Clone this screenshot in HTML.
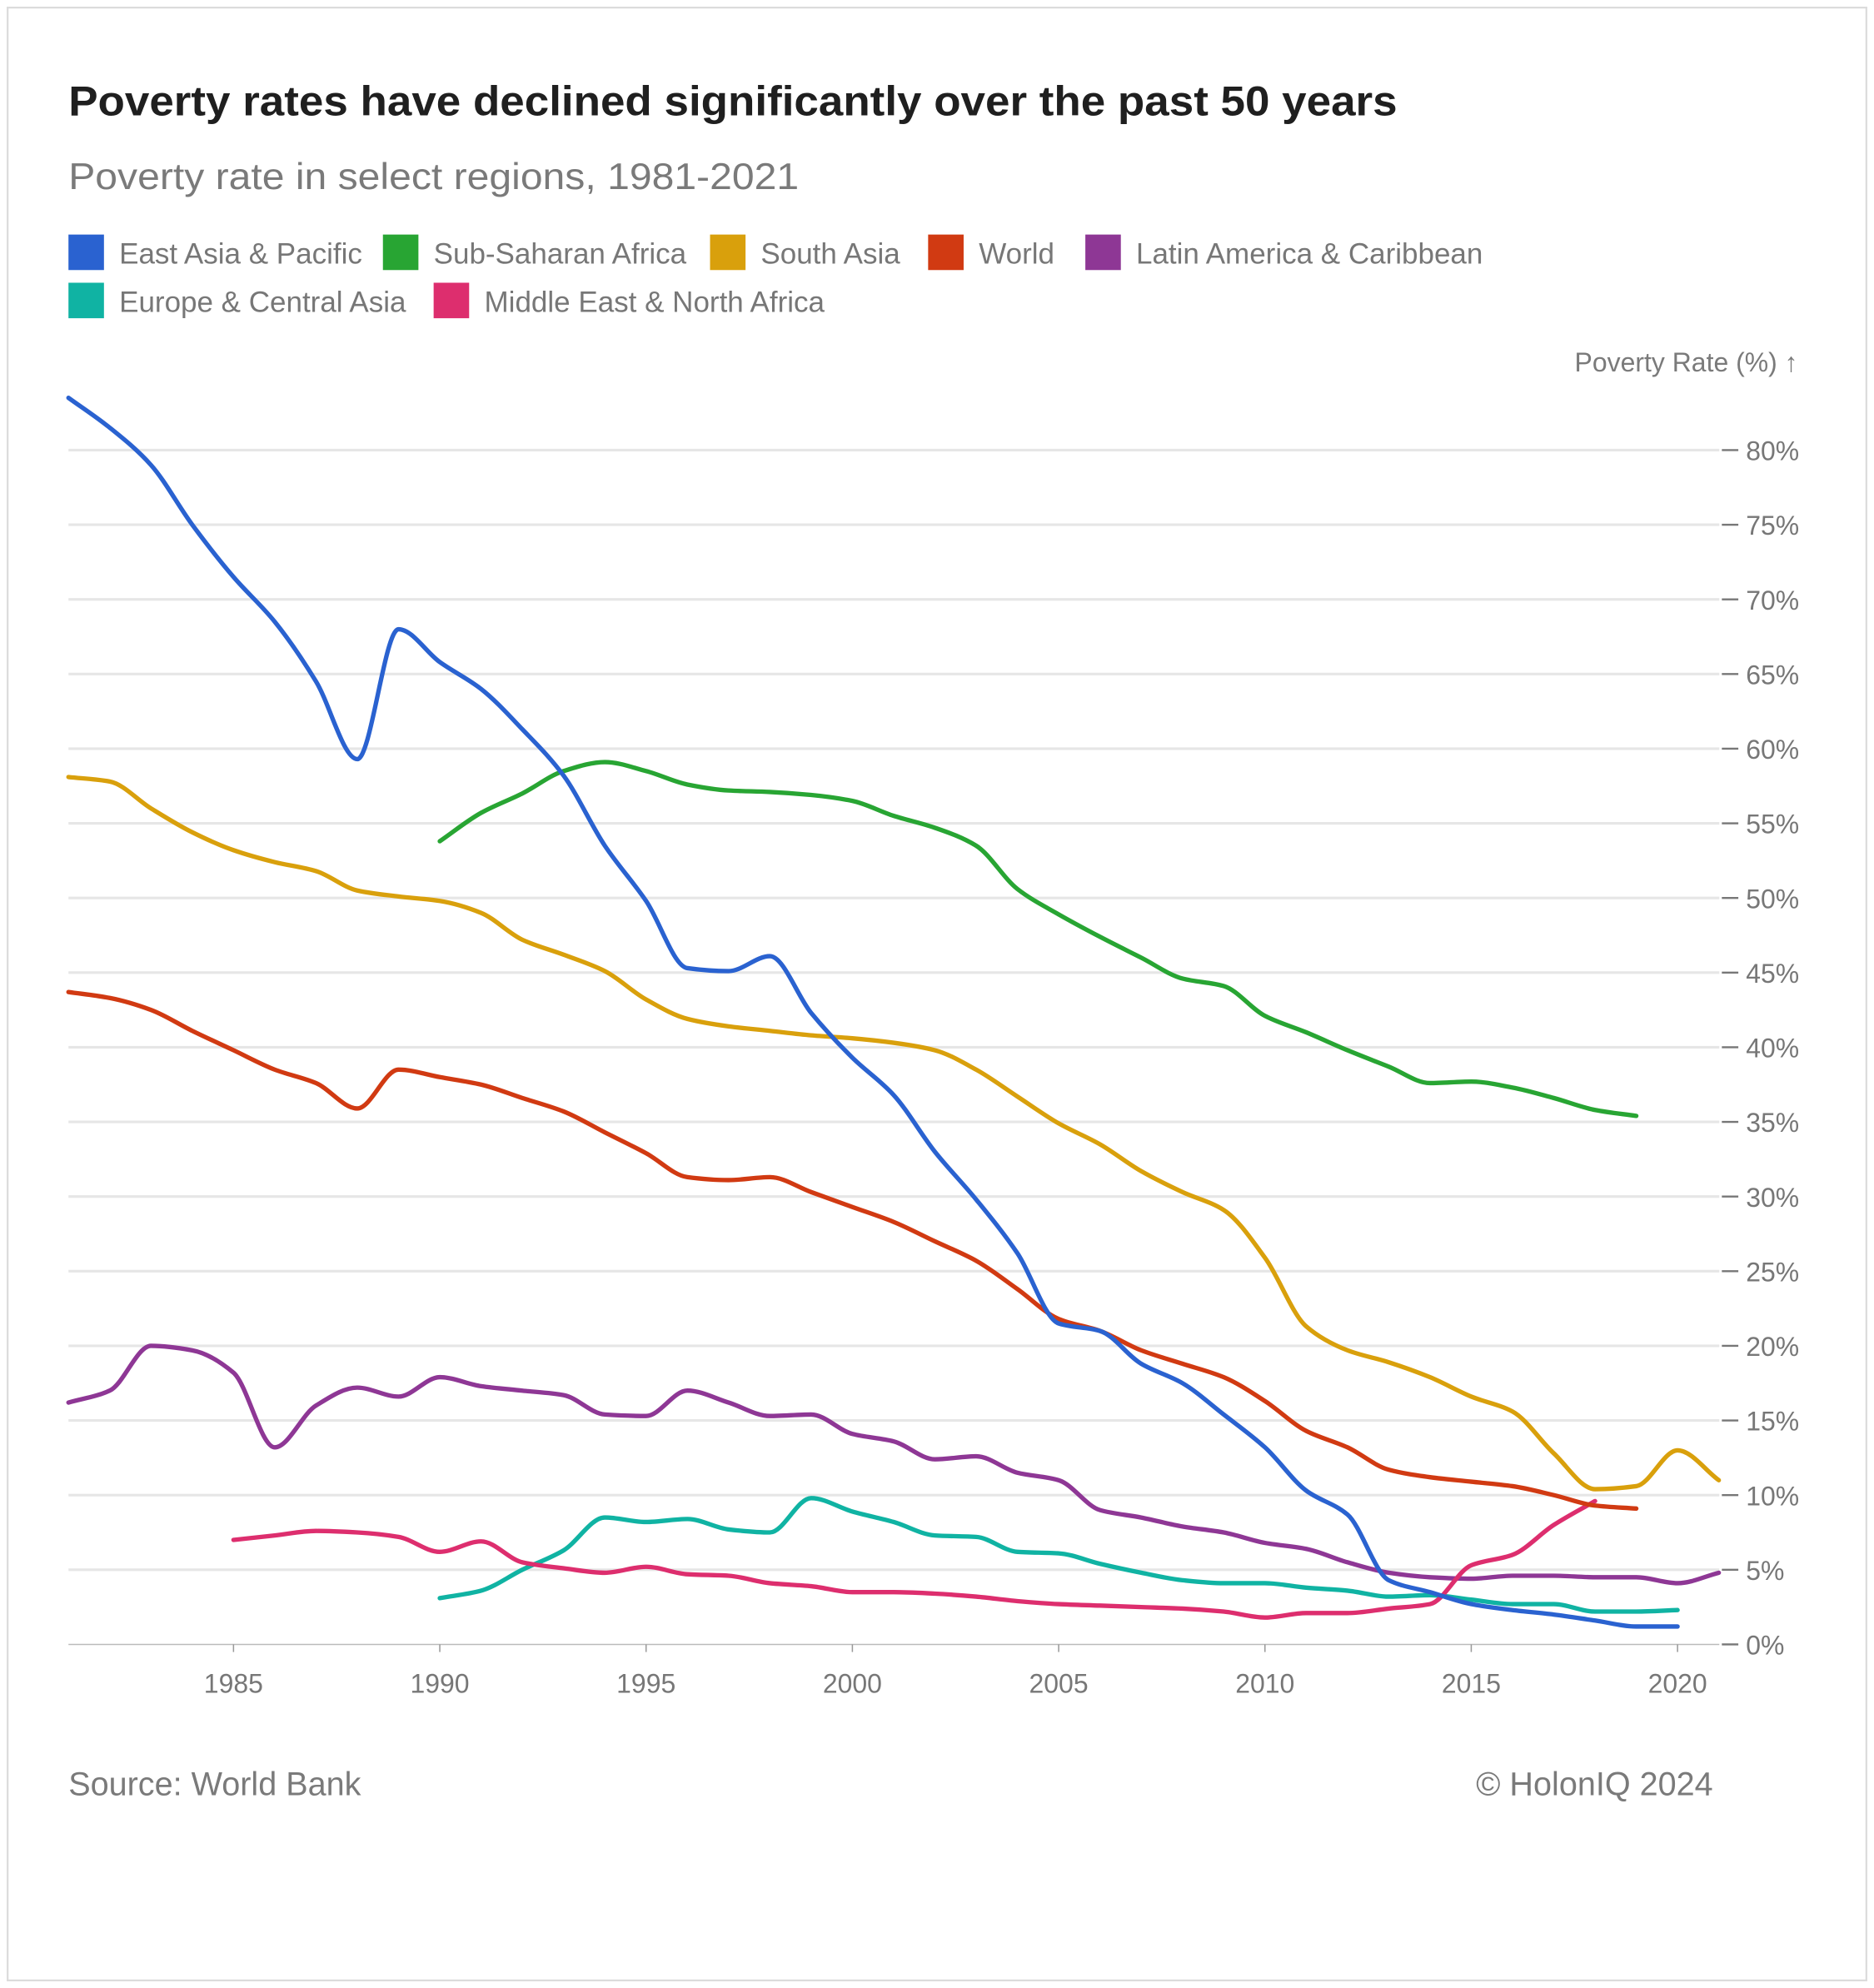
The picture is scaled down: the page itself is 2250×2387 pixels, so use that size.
<!DOCTYPE html>
<html><head><meta charset="utf-8"><style>
html,body{margin:0;padding:0;background:#fff}
svg{display:block}
text{font-family:"Liberation Sans","DejaVu Sans",sans-serif}
</style></head><body>
<svg id="chart" width="2250" height="2387" viewBox="0 0 1478 1568" xmlns="http://www.w3.org/2000/svg">
<rect x="6" y="6" width="1466" height="1556" fill="#fff" stroke="#dcdcdc" stroke-width="1.5"/>
<text x="54" y="91" font-size="33" font-weight="600" fill="#1f1f1f" textLength="1048" lengthAdjust="spacingAndGlyphs">Poverty rates have declined significantly over the past 50 years</text>
<text x="54" y="149" font-size="29" fill="#7a7a7a" textLength="576" lengthAdjust="spacingAndGlyphs">Poverty rate in select regions, 1981-2021</text>
<g id="legend"></g>
<text x="1418" y="293" font-size="21" fill="#7a7a7a" text-anchor="end">Poverty Rate (%) ↑</text>
<g id="grid"></g><g id="series"></g><g id="xaxis"></g>
<text x="54" y="1416" font-size="26" fill="#7a7a7a">Source: World Bank</text>
<text x="1351" y="1416" font-size="26" fill="#7a7a7a" text-anchor="end">© HolonIQ 2024</text>
</svg>
<script>
const yTicks=[0,5,10,15,20,25,30,35,40,45,50,55,60,65,70,75,80];
const xTicks=[1985,1990,1995,2000,2005,2010,2015,2020];
const seriesNames=["East Asia & Pacific","Sub-Saharan Africa","South Asia","World","Latin America & Caribbean","Europe & Central Asia","Middle East & North Africa"];
const seriesColors=["#2a62d0","#28a533","#d9a00c","#d13a12","#8e3795","#10b3a3","#dd2e6e"];
const seriesStart=[1981,1990,1981,1981,1981,1990,1985];
const eastAsia=[83.5,81.5,79,75,71.5,68.5,64.5,59.3,68,65.8,64,61.3,58.2,53.5,49.8,45.3,45.1,46.1,42.3,39.3,36.8,33,29.8,26.2,21.5,21,18.8,17.5,15.4,13.2,10.3,8.7,4.3,3.5,2.7,2.3,2.0,1.6,1.2,1.2];
const subSaharan=[53.8,55.7,57,58.5,59.1,58.5,57.6,57.2,57.1,56.9,56.5,55.5,54.7,53.5,50.6,48.9,47.4,46,44.6,44.1,42.1,41,39.8,38.7,37.6,37.7,37.3,36.6,35.8,35.4];
const southAsia=[58.1,57.8,56,54.4,53.2,52.4,51.8,50.5,50.1,49.8,49,47.2,46.2,45.1,43.2,41.9,41.4,41.1,40.8,40.6,40.3,39.8,38.5,36.7,34.9,33.5,31.7,30.3,29.1,25.9,21.3,19.7,18.9,17.9,16.6,15.6,12.8,10.4,10.6,13,11];
const world=[43.7,43.3,42.5,41.1,39.8,38.5,37.6,35.9,38.5,38,37.5,36.6,35.7,34.3,32.9,31.3,31.1,31.3,30.3,29.3,28.3,27,25.7,23.8,21.8,21,19.7,18.8,17.9,16.3,14.3,13.2,11.7,11.2,10.9,10.6,10,9.3,9.1];
const latAm=[16.2,17,20,19.7,18.2,13.2,16,17.2,16.6,17.9,17.3,17,16.7,15.4,15.3,17,16.2,15.3,15.4,14.1,13.6,12.4,12.6,11.5,11,9,8.5,7.9,7.5,6.8,6.4,5.5,4.8,4.5,4.4,4.6,4.6,4.5,4.5,4.1,4.8];
const europe=[3.1,3.6,5,6.3,8.5,8.2,8.4,7.7,7.5,9.8,8.9,8.2,7.3,7.2,6.2,6.1,5.4,4.8,4.3,4.1,4.1,3.8,3.6,3.2,3.3,3.0,2.7,2.7,2.2,2.2,2.3];
const mena=[7.0,7.3,7.6,7.5,7.2,6.2,6.9,5.5,5.1,4.8,5.2,4.7,4.6,4.1,3.9,3.5,3.5,3.4,3.2,2.9,2.7,2.6,2.5,2.4,2.2,1.8,2.1,2.1,2.4,2.7,5.3,6,8,9.6];
const allSeries=[eastAsia,subSaharan,southAsia,world,latAm,europe,mena];
const NS="http://www.w3.org/2000/svg";
const X0=54,X1=1356,Y0=1297,PXPCT=11.775,PXYR=32.54;
const xs=y=>X0+(y-1981)*PXYR, ys=v=>Y0-v*PXPCT;
function mk(tag,attrs,parent){const e=document.createElementNS(NS,tag);for(const k in attrs)e.setAttribute(k,attrs[k]);parent.appendChild(e);return e;}
const grid=document.getElementById('grid');
yTicks.forEach(t=>{
  const y=ys(t);
  const g=mk('g',{},grid);
  
  
  if(t>0) mk('line',{x1:X0,x2:X1,y1:y,y2:y,stroke:'#e6e6e6','stroke-width':2},g);
  else mk('line',{x1:X0,x2:X1,y1:y,y2:y,stroke:'#bbb','stroke-width':1},g);
  mk('line',{x1:1358,x2:1371,y1:y,y2:y,stroke:'#777','stroke-width':1.5},g);
  const tx=mk('text',{x:1377,y:y+8,'font-size':21,fill:'#777'},g);tx.textContent=t+'%';
});
const xa=document.getElementById('xaxis');
xTicks.forEach(t=>{
  const x=xs(t);
  const g=mk('g',{},xa);
  
  
  mk('line',{x1:x,x2:x,y1:Y0,y2:Y0+6,stroke:'#999','stroke-width':1},g);
  const tx=mk('text',{x:x,y:1335,'font-size':21,fill:'#777','text-anchor':'middle'},g);tx.textContent=t;
});
function monotone(pts){
  const n=pts.length;if(n<2)return '';
  const d=[],m=[];
  for(let i=0;i<n-1;i++)d.push((pts[i+1][1]-pts[i][1])/(pts[i+1][0]-pts[i][0]));
  m[0]=d[0];m[n-1]=d[n-2];
  for(let i=1;i<n-1;i++){m[i]=(d[i-1]*d[i]<=0)?0:(2/(1/d[i-1]+1/d[i]));}
  let p='M'+pts[0][0]+','+pts[0][1];
  for(let i=0;i<n-1;i++){const h=(pts[i+1][0]-pts[i][0])/3;
    p+=' C'+(pts[i][0]+h)+','+(pts[i][1]+m[i]*h)+' '+(pts[i+1][0]-h)+','+(pts[i+1][1]-m[i+1]*h)+' '+pts[i+1][0]+','+pts[i+1][1];}
  return p;
}
const sg=document.getElementById('series');
[4,5,6,1,2,3,0].forEach(i=>{
  const pts=allSeries[i].map((v,k)=>[xs(seriesStart[i]+k),ys(v)]);
  const path=mk('path',{d:monotone(pts),fill:'none',stroke:seriesColors[i],'stroke-width':3.5,'stroke-linejoin':'round','stroke-linecap':'round'},sg);
  
  
});
const legPos=[[54,185],[302,185],[560,185],[732,185],[856,185],[54,223],[342,223]];
const lg=document.getElementById('legend');
seriesNames.forEach((n,i)=>{
  const g=mk('g',{},lg);
  
  
  mk('rect',{x:legPos[i][0],y:legPos[i][1],width:28,height:28,fill:seriesColors[i]},g);
  const t=mk('text',{x:legPos[i][0]+40,y:legPos[i][1]+23,'font-size':23,fill:'#777'},g);t.textContent=n;
});
</script>
</body></html>
